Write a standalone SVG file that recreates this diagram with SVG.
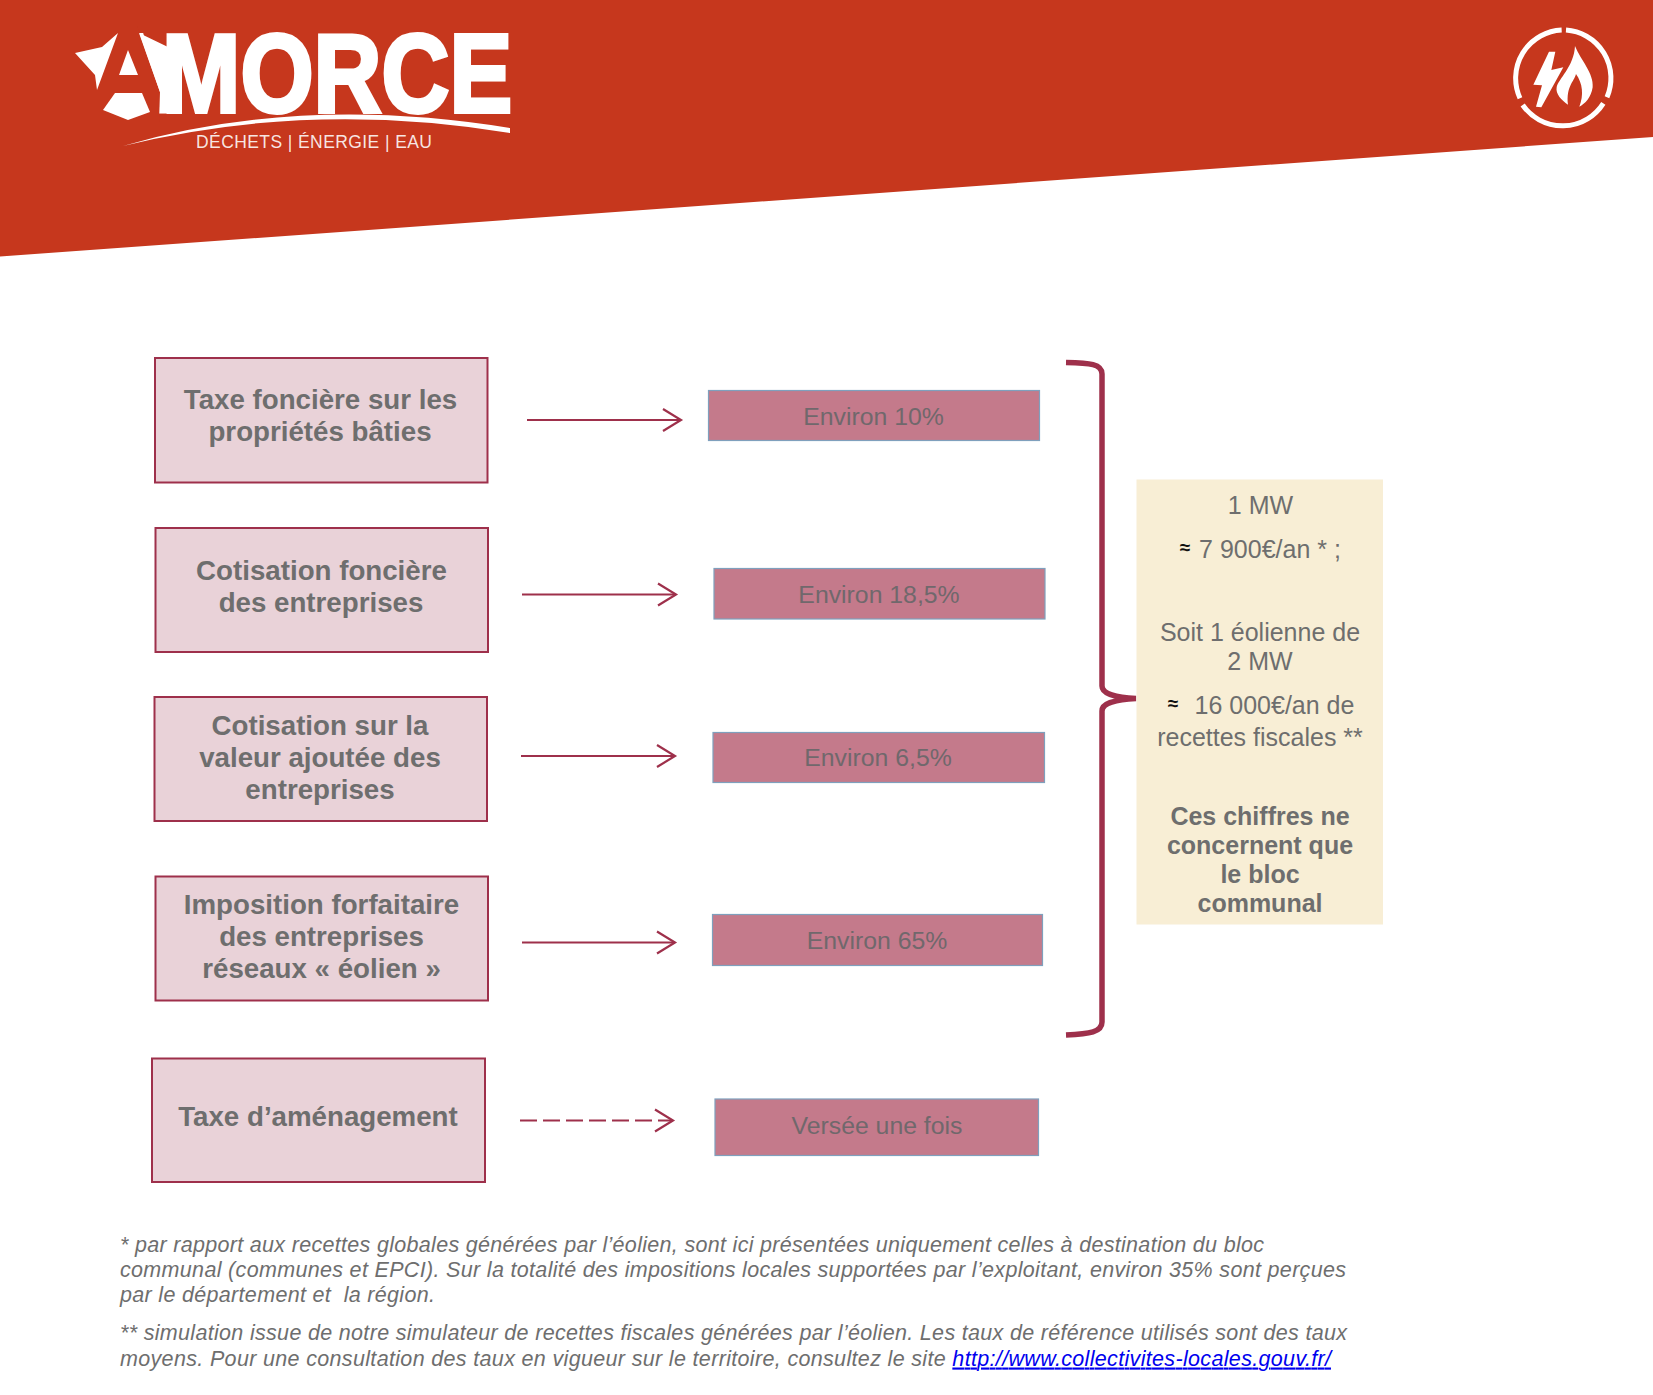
<svg xmlns="http://www.w3.org/2000/svg" width="1653" height="1395" viewBox="0 0 1653 1395">
<style>
text{font-family:"Liberation Sans",Arial,sans-serif;fill:#6e6e6e}
.src rect{fill:#E9D2D8;stroke:#9E304B;stroke-width:2}
.src text{font-weight:700;font-size:27.700px;text-anchor:middle}
.bar rect{fill:#C47A8B;stroke:#7FA0BD;stroke-width:1.200}
.bar text{font-size:24.800px;text-anchor:middle;fill:#70686c}
.cn{fill:none;stroke:#9E304B;stroke-width:2.200}
.note text{font-size:25px;text-anchor:middle}
.note .b{font-weight:700}
.note .ap{font-size:19px;font-weight:700;fill:#111}
.foot text{font-style:italic;font-size:21.500px;white-space:pre}
.foot .lnk{fill:#0000EE;text-decoration:underline}
.logo text{fill:#fff}
</style>
<defs>
<marker id="ah" markerUnits="userSpaceOnUse" markerWidth="22" markerHeight="26" refX="19" refY="13" orient="auto">
<path d="M1,2 L19,13 L1,24" fill="none" stroke="#9E304B" stroke-width="2.200"/>
</marker>
</defs>
<rect width="1653" height="1395" fill="#fff"/>
<polygon id="banner" points="0,0 1653,0 1653,137 0,256.500" fill="#C6371D"/>
<g id="logo" class="logo">
<text transform="translate(100 111.500) scale(.84 1)" font-size="112" font-weight="700" stroke="#fff" stroke-width="4">A<tspan dx="-7">MORCE</tspan></text>
<polygon points="96,26 137,26 160,92 159,122 96,122" fill="#C6371D"/>
<polygon points="75,53 102,47 118,33 97,90 95,75" fill="#fff"/>
<polygon points="139,33 168,47 168,113 162,113 161,95" fill="#fff"/>
<polygon points="128,50 138,75 119,75" fill="#fff"/>
<polygon points="115,93 142,93 150,112 128,120 103,110" fill="#fff"/>
<path d="M123,146 Q300,94 510,128 L510,133 Q310,100 123,146Z" fill="#fff"/>
<text x="196" y="148" font-size="17.500" fill-opacity=".88" textLength="236">DÉCHETS | ÉNERGIE | EAU</text>
</g>
<g id="icon" transform="translate(1480 10) scale(.3333)" fill="#fff">
<g fill="none" stroke="#fff" stroke-width="15">
<path d="M245,60 A145,145 0 0 0 120,265"/>
<path d="M128,285 A145,145 0 0 0 370,280"/>
<path d="M381,262 A145,145 0 0 0 258,60"/>
</g>
<path d="M207,125 L226,125 L214,180 L250,172 L184,292 L168,290 L186,226 L160,224Z"/>
<path d="M285,108 C302,150 342,190 338,232 C334,262 315,282 298,290 C312,255 308,220 288,192 C282,215 258,230 264,284 C245,272 226,252 230,232 C234,208 282,170 285,108Z"/>
</g>

<g id="connectors">
<path class="cn" d="M527,420 H681" marker-end="url(#ah)"/>
<path class="cn" d="M522,594.500 H676" marker-end="url(#ah)"/>
<path class="cn" d="M521,756 H675" marker-end="url(#ah)"/>
<path class="cn" d="M522,942.500 H675" marker-end="url(#ah)"/>
<path class="cn" d="M520,1120.500 H673" stroke-dasharray="17 6" marker-end="url(#ah)"/>
<path id="brace" d="M1066,362.500 C1090,363 1102,364 1102,374 V686 C1102,693 1112,697 1136,698.500 C1112,700 1102,704 1102,711 V1022 C1102,1032 1090,1034 1066,1035" fill="none" stroke="#9E304B" stroke-width="5.500"/>
</g>

<g id="src1" class="src"><rect x="155" y="358" width="332.500" height="124.500"/><text x="320.500" y="409">Taxe foncière sur les</text><text x="320" y="441">propriétés bâties</text></g>
<g id="src2" class="src"><rect x="155.500" y="528" width="332.500" height="124"/><text x="321.500" y="580">Cotisation foncière</text><text x="321" y="612">des entreprises</text></g>
<g id="src3" class="src"><rect x="154.500" y="697" width="332.500" height="124"/><text x="320" y="735">Cotisation sur la</text><text x="320" y="767">valeur ajoutée des</text><text x="320" y="799">entreprises</text></g>
<g id="src4" class="src"><rect x="155.500" y="876.500" width="332.500" height="124"/><text x="321.500" y="914">Imposition forfaitaire</text><text x="321.500" y="946">des entreprises</text><text x="321.500" y="978">réseaux « éolien »</text></g>
<g id="src5" class="src"><rect x="152" y="1058.500" width="333" height="123.500"/><text x="318" y="1126">Taxe d’aménagement</text></g>

<g id="bar1" class="bar"><rect x="708.500" y="390.500" width="331" height="50"/><text x="873.500" y="425">Environ 10%</text></g>
<g id="bar2" class="bar"><rect x="714" y="568.500" width="331" height="50.500"/><text x="879" y="603">Environ 18,5%</text></g>
<g id="bar3" class="bar"><rect x="713" y="732.500" width="331.500" height="50"/><text x="878" y="766">Environ 6,5%</text></g>
<g id="bar4" class="bar"><rect x="712.500" y="914.500" width="330" height="51"/><text x="877" y="949">Environ 65%</text></g>
<g id="bar5" class="bar"><rect x="715" y="1099" width="323.500" height="56.500"/><text x="877" y="1134">Versée une fois</text></g>

<g id="note" class="note">
<rect x="1136.500" y="479.500" width="246.500" height="445" fill="#F8EED5"/>
<text x="1260.500" y="514">1 MW</text>
<text class="ap" x="1185" y="554">≈</text>
<text x="1270" y="558">7 900€/an * ;</text>
<text x="1260" y="641">Soit 1 éolienne de</text>
<text x="1260" y="670">2 MW</text>
<text class="ap" x="1173" y="710">≈</text>
<text x="1274.500" y="714">16 000€/an de</text>
<text x="1260" y="746">recettes fiscales **</text>
<text class="b" x="1260" y="825">Ces chiffres ne</text>
<text class="b" x="1260" y="854">concernent que</text>
<text class="b" x="1260" y="883">le bloc</text>
<text class="b" x="1260" y="912">communal</text>
</g>

<g id="footnotes" class="foot">
<text x="120" y="1252" textLength="1144">* par rapport aux recettes globales générées par l’éolien, sont ici présentées uniquement celles à destination du bloc</text>
<text x="120" y="1277" textLength="1226">communal (communes et EPCI). Sur la totalité des impositions locales supportées par l’exploitant, environ 35% sont perçues</text>
<text x="120" y="1302" textLength="315">par le département et  la région.</text>
<text x="120" y="1340" textLength="1227">** simulation issue de notre simulateur de recettes fiscales générées par l’éolien. Les taux de référence utilisés sont des taux</text>
<text x="120" y="1365.500" textLength="1211">moyens. Pour une consultation des taux en vigueur sur le territoire, consultez le site <tspan class="lnk">http://www.collectivites-locales.gouv.fr/</tspan></text>
</g>
</svg>
